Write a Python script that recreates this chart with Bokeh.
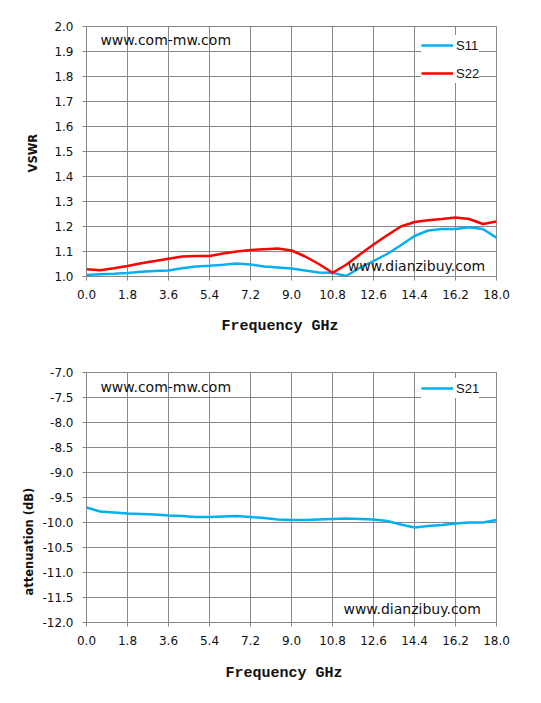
from bokeh.plotting import figure
from bokeh.models import (FixedTicker, NumeralTickFormatter, Label, Legend, LegendItem, Range1d, Title)
from bokeh.layouts import column
from bokeh.embed import file_html
from bokeh.resources import INLINE

freq = [0.0, 0.6, 1.2, 1.8, 2.4, 3.0, 3.6, 4.2, 4.8, 5.4, 6.0, 6.6, 7.2, 7.8, 8.4, 9.0,
        9.6, 10.2, 10.8, 11.4, 12.0, 12.6, 13.2, 13.8, 14.4, 15.0, 15.6, 16.2, 16.8, 17.4, 18.0]

s11 = [1.006, 1.009, 1.011, 1.014, 1.019, 1.022, 1.024, 1.033, 1.040, 1.043, 1.047, 1.052,
       1.048, 1.040, 1.036, 1.032, 1.024, 1.016, 1.015, 1.002, 1.035, 1.062, 1.090, 1.125,
       1.162, 1.184, 1.190, 1.190, 1.197, 1.190, 1.155]

s22 = [1.029, 1.025, 1.033, 1.042, 1.053, 1.062, 1.071, 1.080, 1.082, 1.082, 1.092, 1.100,
       1.106, 1.109, 1.112, 1.104, 1.080, 1.050, 1.015, 1.047, 1.088, 1.128, 1.165, 1.200,
       1.218, 1.225, 1.230, 1.236, 1.230, 1.210, 1.220]

s21 = [-9.70, -9.78, -9.80, -9.82, -9.83, -9.84, -9.86, -9.87, -9.89, -9.89, -9.88, -9.87,
       -9.89, -9.91, -9.94, -9.95, -9.95, -9.94, -9.93, -9.92, -9.93, -9.94, -9.97, -10.04,
       -10.10, -10.07, -10.05, -10.02, -10.00, -10.00, -9.95]

x_ticks = [0.0, 1.8, 3.6, 5.4, 7.2, 9.0, 10.8, 12.6, 14.4, 16.2, 18.0]
vswr_ticks = [1.0, 1.1, 1.2, 1.3, 1.4, 1.5, 1.6, 1.7, 1.8, 1.9, 2.0]
att_ticks = [-12.0, -11.5, -11.0, -10.5, -10.0, -9.5, -9.0, -8.5, -8.0, -7.5, -7.0]

x_title = "Frequency GHz"
vswr_title = "VSWR"
att_title = "attenuation (dB)"
site1 = "www.com-mw.com"
site2 = "www.dianzibuy.com"

BLUE = "#00B0F0"
RED = "#FF0000"
GRID = "#878787"
TICK_FONT = "DejaVu Sans"


def base_fig(yticks, border_top, border_bottom):
    p = figure(frame_width=410, frame_height=250, output_backend="svg", toolbar_location=None,
               x_range=Range1d(0, 18), y_range=Range1d(min(yticks), max(yticks)),
               min_border_left=86, min_border_right=37, min_border_top=border_top,
               min_border_bottom=border_bottom, background_fill_color="white",
               border_fill_color="white")
    p.outline_line_color = GRID
    p.outline_line_width = 1
    p.xaxis.ticker = FixedTicker(ticks=x_ticks)
    p.yaxis.ticker = FixedTicker(ticks=yticks)
    p.xaxis.formatter = NumeralTickFormatter(format="0.0")
    p.yaxis.formatter = NumeralTickFormatter(format="0.0")
    for ax in (p.xaxis, p.yaxis):
        ax.axis_line_color = GRID
        ax.major_tick_line_color = GRID
        ax.major_tick_in = 0
        ax.major_tick_out = 4
        ax.minor_tick_line_color = None
        ax.major_label_text_font = TICK_FONT
        ax.major_label_text_font_size = "12px"
        ax.major_label_text_color = "#111111"
        ax.major_label_standoff = 9
    p.xgrid.grid_line_color = GRID
    p.ygrid.grid_line_color = GRID
    p.xgrid.grid_line_width = 1
    p.ygrid.grid_line_width = 1
    return p


def add_titles(p, xt_offset, xt_standoff, yt_text, yt_offset, yt_standoff):
    p.add_layout(Title(text=x_title, align="left", offset=xt_offset, standoff=xt_standoff,
                       vertical_align="middle", text_font="Liberation Mono",
                       text_font_style="bold", text_font_size="15px",
                       text_color="#111111"), "below")
    p.add_layout(Title(text=yt_text, align="left", offset=yt_offset, standoff=yt_standoff,
                       vertical_align="middle", text_font="DejaVu Sans",
                       text_font_style="bold", text_font_size="11.5px",
                       text_color="#111111"), "left")


def add_site(p, text, x, y):
    p.add_layout(Label(x=x, y=y, text=text, text_font="DejaVu Sans", text_font_size="14px",
                       text_align="left", text_baseline="middle", text_color="#111111",
                       background_fill_color=None))


# ---- top: VSWR ----
p1 = base_fig(vswr_ticks, 26, 80)
r11 = p1.line(freq, s11, line_color=BLUE, line_width=2.5)
r22 = p1.line(freq, s22, line_color=RED, line_width=2.5)
add_site(p1, site1, 0.61, 1.948)
add_site(p1, site2, 11.47, 1.044)
add_titles(p1, 135, 31, vswr_title, 104, 22)
leg1 = Legend(items=[LegendItem(label="S11", renderers=[r11]),
                     LegendItem(label="S22", renderers=[r22])],
              location=(335, 193), orientation="vertical", padding=6, spacing=8,
              label_height=20, glyph_height=20, glyph_width=32, label_standoff=3,
              label_text_font="Liberation Sans", label_text_font_size="13px",
              label_text_color="#111111", background_fill_color="white",
              background_fill_alpha=1.0, border_line_color=None, margin=0)
p1.add_layout(leg1, "center")

# ---- bottom: attenuation ----
p2 = base_fig(att_ticks, 16, 74)
r21 = p2.line(freq, s21, line_color=BLUE, line_width=2.5)
add_site(p2, site1, 0.61, -7.28)
add_site(p2, site2, 11.28, -11.72)
add_titles(p2, 139, 32, att_title, 27, 6)
leg2 = Legend(items=[LegendItem(label="S21", renderers=[r21])],
              location=(335, 224), orientation="vertical", padding=6, spacing=8,
              label_height=20, glyph_height=20, glyph_width=32, label_standoff=3,
              label_text_font="Liberation Sans", label_text_font_size="13px",
              label_text_color="#111111", background_fill_color="white",
              background_fill_alpha=1.0, border_line_color=None, margin=0)
p2.add_layout(leg2, "center")

layout = column(p1, p2, spacing=0)
open("out.html", "w").write(file_html(layout, INLINE))
